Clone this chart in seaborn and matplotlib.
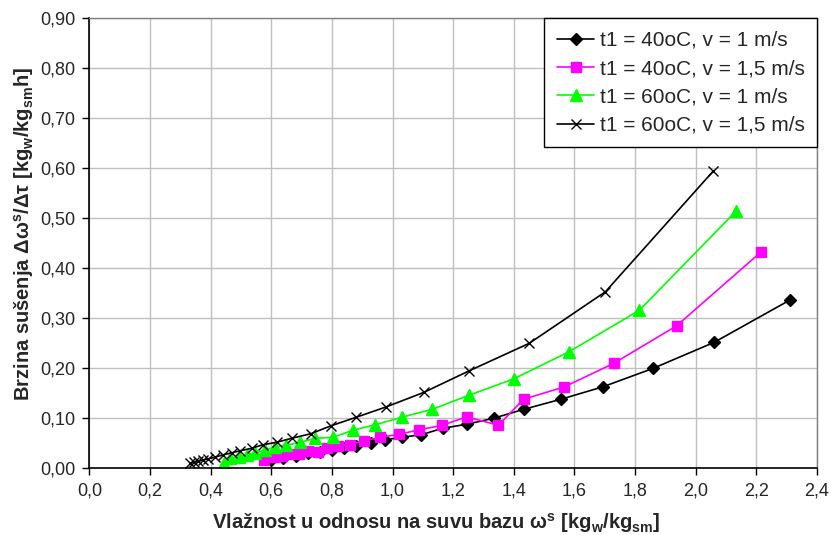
import numpy as np
import pandas as pd
import seaborn as sns
import matplotlib
import matplotlib.pyplot as plt
from matplotlib.ticker import FuncFormatter, MultipleLocator

# values
x_40_v1 = [0.60, 0.64, 0.68, 0.72, 0.76, 0.80, 0.84, 0.88, 0.93, 0.975, 1.03, 1.094,
           1.165, 1.244, 1.333, 1.433, 1.555, 1.694, 1.86, 2.061, 2.312]
y_40_v1 = [0.016, 0.021, 0.025, 0.030, 0.033, 0.037, 0.041, 0.045, 0.050, 0.057, 0.062,
           0.067, 0.080, 0.088, 0.100, 0.118, 0.138, 0.163, 0.200, 0.252, 0.337]

x_40_v15 = [0.575, 0.61, 0.635, 0.66, 0.69, 0.72, 0.755, 0.785, 0.82, 0.86, 0.905, 0.96,
            1.022, 1.088, 1.164, 1.244, 1.349, 1.432, 1.567, 1.730, 1.937, 2.214]
y_40_v15 = [0.017, 0.022, 0.025, 0.028, 0.029, 0.034, 0.033, 0.041, 0.045, 0.047, 0.055,
            0.062, 0.068, 0.077, 0.086, 0.103, 0.086, 0.138, 0.163, 0.210, 0.285, 0.432]

x_60_v1 = [0.445, 0.465, 0.495, 0.52, 0.546, 0.578, 0.612, 0.65, 0.695, 0.745, 0.805,
           0.868, 0.942, 1.03, 1.131, 1.252, 1.40, 1.582, 1.814, 2.134]
y_60_v1 = [0.011, 0.020, 0.023, 0.027, 0.031, 0.036, 0.043, 0.046, 0.052, 0.060, 0.062,
           0.076, 0.087, 0.102, 0.118, 0.146, 0.179, 0.233, 0.316, 0.515]

x_60_v15 = [0.332, 0.345, 0.36, 0.375, 0.392, 0.414, 0.442, 0.47, 0.497, 0.535, 0.572,
            0.618, 0.667, 0.73, 0.797, 0.88, 0.98, 1.104, 1.253, 1.451, 1.702, 2.057]
y_60_v15 = [0.010, 0.012, 0.014, 0.0165, 0.019, 0.022, 0.027, 0.031, 0.035, 0.040, 0.047,
            0.052, 0.060, 0.069, 0.085, 0.102, 0.123, 0.152, 0.195, 0.250, 0.353, 0.594]

labels = ['t1 = 40oC, v = 1 m/s', 't1 = 40oC, v = 1,5 m/s',
          't1 = 60oC, v = 1 m/s', 't1 = 60oC, v = 1,5 m/s']

sns.set_style('whitegrid')
plt.rcParams['font.family'] = ['Liberation Sans', 'DejaVu Sans']
plt.rcParams['mathtext.fontset'] = 'custom'
plt.rcParams['mathtext.rm'] = 'Liberation Sans:bold'
plt.rcParams['mathtext.it'] = 'Liberation Sans:bold'
plt.rcParams['mathtext.bf'] = 'Liberation Sans:bold'

fig = plt.figure(figsize=(8.31, 5.35), dpi=100)
ax = fig.add_axes([0.1075, 0.1247, 0.8757, 0.8411])

series = [(x_40_v1, y_40_v1, 'black', 'D', 6.5),
          (x_40_v15, y_40_v15, '#ff00ff', 's', 7.5),
          (x_60_v1, y_60_v1, '#00ff00', '^', 8.5),
          (x_60_v15, y_60_v15, 'black', 'x', 6.5)]

for (xs, ys, col, mk, ms), lab in zip(series, labels):
    sns.lineplot(x=xs, y=ys, ax=ax, color=col, marker=mk, markersize=ms,
                 markeredgecolor=col, markeredgewidth=1.0, linewidth=1.2,
                 label=lab, sort=False, estimator=None)

ax.set_xlim(0, 2.4)
ax.set_ylim(0, 0.9)
ax.xaxis.set_major_locator(MultipleLocator(0.2))
ax.yaxis.set_major_locator(MultipleLocator(0.1))
ax.xaxis.set_major_formatter(FuncFormatter(lambda v, p: f'{v:.1f}'.replace('.', ',')))
ax.yaxis.set_major_formatter(FuncFormatter(lambda v, p: f'{v:.2f}'.replace('.', ',')))
ax.grid(True, color='#c0c0c0', linewidth=1.0)
ax.tick_params(axis='both', labelsize=13, length=5, width=1, color='black',
               direction='out', bottom=True, left=True, pad=5)

for side in ['left', 'bottom']:
    ax.spines[side].set_color('black')
    ax.spines[side].set_linewidth(1.2)
for side in ['top', 'right']:
    ax.spines[side].set_color('#808080')
    ax.spines[side].set_linewidth(1.0)

ax.set_xlabel(r'Vlažnost u odnosu na suvu bazu ω$^{s}$ [kg$_{w}$/kg$_{sm}$]',
              fontsize=14.5, fontweight='bold')
ax.set_ylabel(r'Brzina sušenja Δω$^{s}$/Δτ [kg$_{w}$/kg$_{sm}$h]',
              fontsize=14.5, fontweight='bold')
ax.xaxis.set_label_coords(0.476, -0.095)
ax.yaxis.set_label_coords(-0.073, 0.522)

leg = ax.legend(loc='upper right', bbox_to_anchor=(1.0, 1.0), borderaxespad=0,
                fontsize=15, frameon=True, fancybox=False, framealpha=1,
                handlelength=1.8, handletextpad=0.25, labelspacing=0.45,
                borderpad=0.6)
leg.get_frame().set_edgecolor('black')
leg.get_frame().set_linewidth(1.0)

fig.savefig('out.png', dpi=100)
